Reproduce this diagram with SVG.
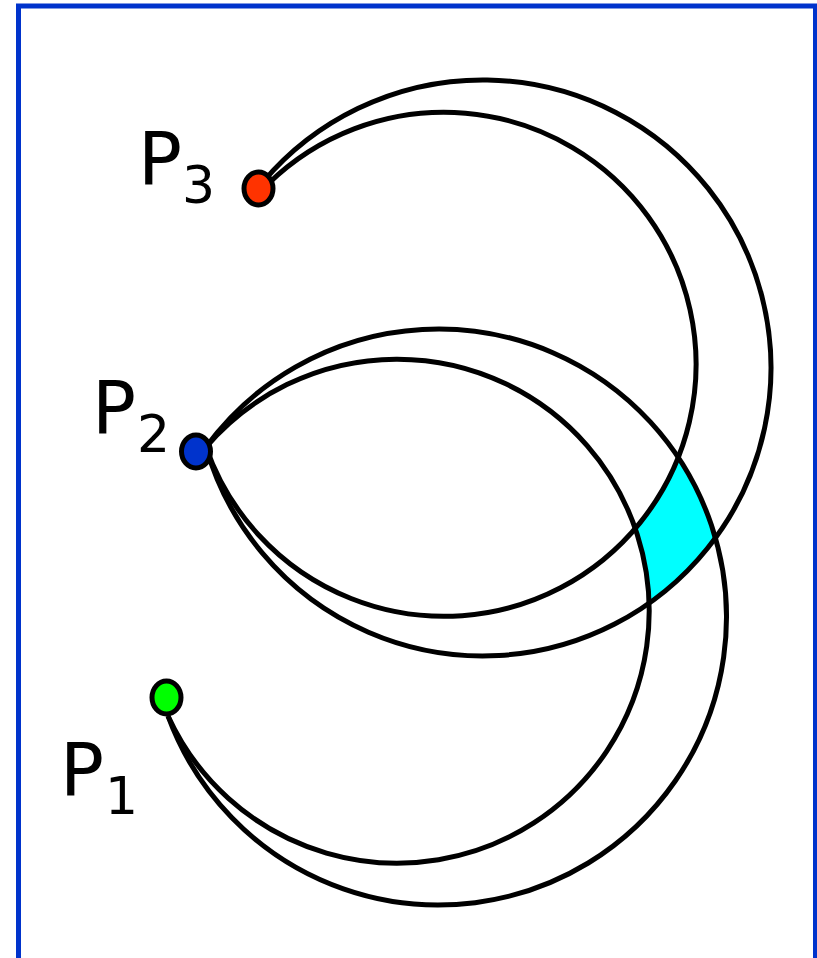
<svg xmlns="http://www.w3.org/2000/svg" width="817" height="958" viewBox="0 0 817 958">
<style>
.arc{fill:none;stroke:#000;stroke-width:5}
.dot{stroke:#000;stroke-width:5}
.lbl{font-family:"DejaVu Sans","Verdana",sans-serif;fill:#000}
.p{font-size:73px}
.s{font-size:52px}
</style>
<rect x="18.5" y="6" width="797" height="1000" fill="#fff" stroke="#0033cc" stroke-width="5"/>
<path id="region" d="M 678.1 457.1 A 288 288 0 0 1 715.3 538.2 A 288 288 0 0 1 649.8 602.8 A 252 252 0 0 0 635.5 527.8 A 252 252 0 0 0 678.1 457.1 Z" fill="#00ffff"/>
<g id="connectors">
<path class="arc" d="M 263 182 A 288 288 0 1 1 206 447"/>
<path class="arc" d="M 268 184 A 252 252 0 1 1 206 447"/>
<path class="arc" d="M 206 447 A 288 288 0 1 1 168 716"/>
<path class="arc" d="M 206 447 A 252 252 0 1 1 168 716"/>
</g>
<g id="P3">
<ellipse class="dot" cx="258.5" cy="188.5" rx="14.5" ry="16.5" fill="#ff3300"/>
<text class="lbl" x="138" y="184"><tspan class="p">P</tspan><tspan class="s" x="182" y="203">3</tspan></text>
</g>
<g id="P2">
<ellipse class="dot" cx="196" cy="451.5" rx="14.5" ry="16.5" fill="#0033cc"/>
<text class="lbl" x="92" y="433"><tspan class="p">P</tspan><tspan class="s" x="137" y="452">2</tspan></text>
</g>
<g id="P1">
<ellipse class="dot" cx="166.5" cy="697.5" rx="14.5" ry="16.5" fill="#00ff00"/>
<text class="lbl" x="60" y="795"><tspan class="p">P</tspan><tspan class="s" x="105" y="814">1</tspan></text>
</g>
</svg>
